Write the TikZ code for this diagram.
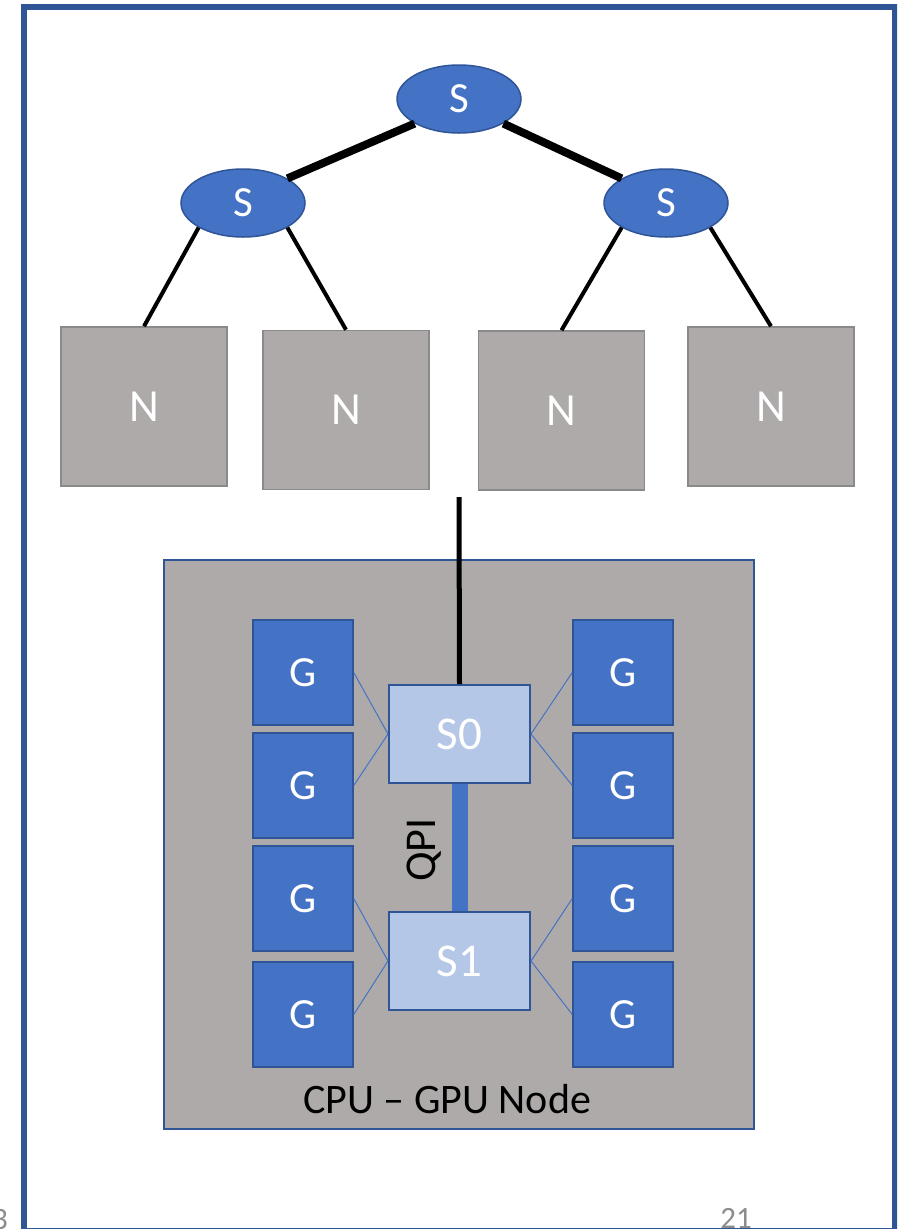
\documentclass[tikz,border=0pt]{standalone}
\usepackage{fontspec}
\setmainfont{Carlito}
\usetikzlibrary{shapes.geometric}
\definecolor{accent}{HTML}{4472C4}
\definecolor{darkblue}{HTML}{2F5597}
\definecolor{lightblue}{HTML}{B4C7E7}
\definecolor{nodegray}{HTML}{AEAAAA}
\definecolor{edgegray}{HTML}{8A8A8A}
\definecolor{pagenum}{HTML}{8C8C8C}
\newcommand{\fs}[1]{\fontsize{#1pt}{#1pt}\selectfont}

\begin{document}
\begin{tikzpicture}[x=1pt,y=-1pt,
  switchnode/.style={ellipse, fill=accent, draw=darkblue, line width=1.5pt,
    minimum width=124pt, minimum height=68pt, inner sep=0pt,
    text=white, font=\fs{43}},
  compnode/.style={rectangle, fill=nodegray, draw=edgegray, line width=1.5pt,
    minimum width=166pt, minimum height=159pt, inner sep=0pt,
    text=white, font=\fs{46}},
  gpu/.style={rectangle, fill=accent, draw=darkblue, line width=1.5pt,
    minimum width=100pt, minimum height=105pt, inner sep=0pt,
    text=white, font=\fs{43}},
  socket/.style={rectangle, fill=lightblue, draw=darkblue, line width=2pt,
    minimum width=141pt, minimum height=98pt, inner sep=0pt,
    text=white, font=\fs{47}},
  trunk/.style={line width=8pt, black},
  branch/.style={line width=4pt, black},
  pcie/.style={line width=1pt, accent},
  pagelabel/.style={text=pagenum, font=\fs{31}, inner sep=0pt}
]
\useasboundingbox (0,0) rectangle (897,1229);
\clip (0,0) rectangle (897,1229);

% slide frame
\draw[darkblue, line width=6pt] (24,7) rectangle (895,1231);

% switch tree
\node[switchnode] (top) at (459,99) {S};
\node[switchnode] (ls) at (243,203) {S};
\node[switchnode] (rs) at (666,203) {S};

\node[compnode] (n1) at (144,406.5) {N};
\node[compnode] (n2) at (346,410) {N};
\node[compnode] (n3) at (561.5,410.5) {N};
\node[compnode] (n4) at (771,406.5) {N};

\draw[trunk] (top.south west) -- (ls.north east);
\draw[trunk] (top.south east) -- (rs.north west);
\draw[branch] (ls.south west) -- (n1.north);
\draw[branch] (ls.south east) -- (n2.north);
\draw[branch] (rs.south west) -- (n3.north);
\draw[branch] (rs.south east) -- (n4.north);

% expanded CPU-GPU node
\node[rectangle, fill=nodegray, draw=darkblue, line width=2pt,
  minimum width=590pt, minimum height=569pt, inner sep=0pt] (cpu) at (459,844.5) {};
\node[font=\fs{42}, inner sep=0pt] (cpulabel) at (447,1099) {CPU – GPU Node};

\node[socket] (s0) at (459.5,734) {S0};
\node[socket] (s1) at (459.5,961) {S1};

\node[gpu] (gl1) at (303,672.5) {G};
\node[gpu] (gl2) at (303,785.5) {G};
\node[gpu] (gl3) at (303,898.5) {G};
\node[gpu] (gl4) at (303,1014.5) {G};
\node[gpu] (gr1) at (623,672.5) {G};
\node[gpu] (gr2) at (623,785.5) {G};
\node[gpu] (gr3) at (623,898.5) {G};
\node[gpu] (gr4) at (623,1014.5) {G};

\draw[pcie] (gl1.east) -- (s0.west);
\draw[pcie] (gl2.east) -- (s0.west);
\draw[pcie] (gr1.west) -- (s0.east);
\draw[pcie] (gr2.west) -- (s0.east);
\draw[pcie] (gl3.east) -- (s1.west);
\draw[pcie] (gl4.east) -- (s1.west);
\draw[pcie] (gr3.west) -- (s1.east);
\draw[pcie] (gr4.west) -- (s1.east);

% QPI link between sockets
\draw[accent, line width=16pt] (s0.south) -- (s1.north);
\node[rotate=90, font=\fs{44}, inner sep=0pt] (qpi) at (424,850) {QPI};

% uplink from the switch fabric
\coordinate (uplink) at (459,497);
\draw[line width=5pt, black] (uplink) -- (s0.north);

% page numbers
\node[pagelabel, anchor=base east] (prevnum) at (8,1229) {3};
\node[pagelabel, anchor=base] (pagenum) at (736,1228) {21};
\end{tikzpicture}
\end{document}
